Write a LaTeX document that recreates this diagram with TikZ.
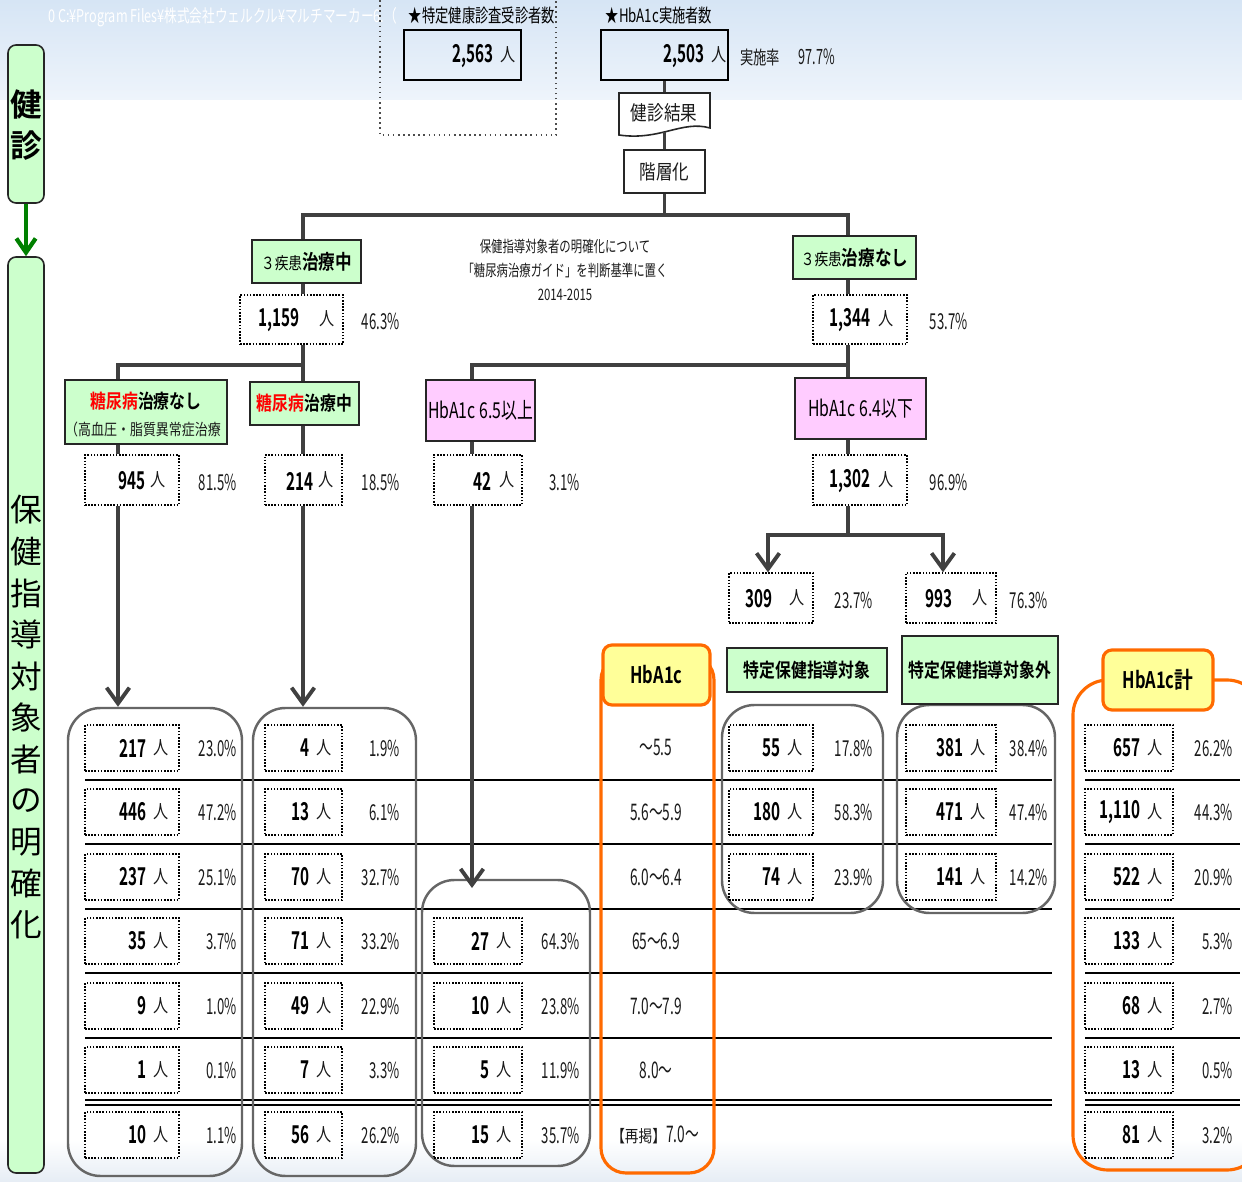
\documentclass[tikz,border=0pt]{standalone}
\usepackage{fontspec}
\usetikzlibrary{arrows.meta}
\newfontfamily\jp[FakeStretch=0.82,BoldFont={Noto Sans CJK JP Bold}]{Noto Sans CJK JP}
\newfontfamily\nm[FakeStretch=0.72,BoldFont={Noto Sans CJK JP Bold}]{Noto Sans CJK JP}
\newfontfamily\np[FakeStretch=0.6,BoldFont={Noto Sans CJK JP Bold}]{Noto Sans CJK JP}
\newfontfamily\nb[FakeStretch=0.62,BoldFont={Noto Sans CJK JP Bold}]{Noto Sans CJK JP}
\newfontfamily\jv[BoldFont={Noto Sans CJK JP Bold}]{Noto Sans CJK JP}
\definecolor{lg}{HTML}{CCFFCC}
\definecolor{pk}{HTML}{FFCCFF}
\definecolor{yl}{HTML}{FFFF99}
\definecolor{og}{HTML}{FF6A00}
\definecolor{dg}{HTML}{404040}
\definecolor{gb}{HTML}{666666}
\definecolor{bgt}{HTML}{D6E5F5}
\definecolor{bgm}{HTML}{EEF4FB}
\definecolor{bgb}{HTML}{E6EDF5}
\definecolor{gr}{HTML}{008000}
\definecolor{tx}{HTML}{1A1A1A}
\tikzset{
 conn/.style={draw=dg,line width=2.2pt},
 arr/.style={conn,-{Straight Barb[length=9pt,width=13pt]}},
 lab/.style={draw=black!85,fill=lg,line width=0.9pt,inner sep=0pt},
 pbox/.style={draw=black!85,fill=pk,line width=0.9pt,inner sep=0pt},
 topbox/.style={draw=black,line width=1.6pt,inner sep=0pt},
 cbox/.style={draw=black,line width=0.8pt,dash pattern=on 0.9pt off 0.9pt,fill=white,inner sep=0pt},
 gbox/.style={draw=gb,line width=1.4pt,rounded corners=0.65cm,inner sep=0pt},
 obox/.style={draw=og,line width=1.8pt,rounded corners=0.5cm,inner sep=0pt},
 ybox/.style={draw=og,fill=yl,line width=1.8pt,rounded corners=0.18cm,inner sep=0pt},
 numt/.style={font=\nb\bfseries\fontsize{14}{15}\selectfont,inner sep=0pt,text=black},
 hito/.style={font=\jp\fontsize{10.5}{12}\selectfont,inner sep=0pt,text=tx},
 pct/.style={font=\np\fontsize{12.5}{13}\selectfont,inner sep=0pt,text=tx},
 rng/.style={font=\np\fontsize{13}{14}\selectfont,inner sep=0pt,text=tx},
 vt/.style={font=\jv\fontsize{18}{20}\selectfont,inner sep=0pt},
 hdr/.style={font=\jp\bfseries\fontsize{11}{13}\selectfont,inner sep=0pt},
 sepl/.style={draw=black,line width=1.5pt},
}
\newcommand\cell[7]{%
 \node[cbox,minimum width={(#3-#2)*0.02cm},minimum height=46*0.02cm] (#1) at ({(#2+#3)/2},#4) {};
 \node[numt,anchor=east] at ({#3-32},#4) {#5};
 \node[hito] at ({#3-18},#4) {人};
 \node[pct,anchor=east] at (#7,#4) {#6\%};
}
\begin{document}
\begin{tikzpicture}[x=0.02cm,y=-0.02cm]
\useasboundingbox (0,0) rectangle (1242,1182);
% background
\fill[white] (0,0) rectangle (1242,1182);
\shade[top color=bgt,bottom color=bgm] (0,0) rectangle (1242,100);
\shade[top color=white,bottom color=bgb] (0,1140) rectangle (1242,1182);
% file path
\node[anchor=west,text=white,font=\nm\fontsize{10}{11}\selectfont,inner sep=0pt] (fpath) at (48,17) {0 C:¥Program Files¥株式会社ウェルクル¥マルチマーカー6.（};
% left labels
\node[lab,rounded corners=0.16cm,minimum width=36*0.02cm,minimum height=158*0.02cm] (lk1) at (26,124) {};
\node[vt,font=\jv\bfseries\fontsize{18}{20}\selectfont] at (26,105) {健};
\node[vt,font=\jv\bfseries\fontsize{18}{20}\selectfont] at (26,146) {診};
\node[lab,rounded corners=0.16cm,minimum width=36*0.02cm,minimum height=916*0.02cm] (lk2) at (26,715) {};
\foreach \c [count=\i from 0] in {保,健,指,導,対,象,者,の,明,確,化}
  \node[vt] at (26,{510+41.5*\i}) {\c};
\draw[draw=gr,line width=2.4pt,-{Straight Barb[length=8pt,width=11pt]}] (lk1.south) -- (lk2.north);
% top
\draw[dotted,line width=0.9pt,draw=black!70] (380,-5) -- (380,135) -- (556,135) -- (556,-5);
\node[font=\nm\fontsize{10.5}{12}\selectfont,inner sep=0pt] (t1) at (482,16) {★特定健康診査受診者数};
\node[topbox,minimum width=117*0.02cm,minimum height=50*0.02cm] (b2563) at (462.5,55) {};
\node[numt,anchor=east] at (494,56) {2,563};
\node[hito] at (508,55) {人};
\node[font=\nm\fontsize{10.5}{12}\selectfont,inner sep=0pt] (t2) at (659,16) {★HbA1c実施者数};
\node[topbox,minimum width=127*0.02cm,minimum height=50*0.02cm] (b2503) at (664.5,55) {};
\node[numt,anchor=east] at (705,56) {2,503};
\node[hito] at (719,55) {人};
\node[anchor=west,font=\nm\fontsize{10.5}{12}\selectfont,inner sep=0pt,text=tx] (rate) at (740,57) {実施率\quad{\np\fontsize{12}{12}\selectfont 97.7\%}};
% kekka & kaiso
\node[minimum width=91*0.02cm,minimum height=40*0.02cm,inner sep=0pt] (kekka) at (664.5,112) {};
\draw[conn] (b2503) -- (kekka);
\draw[draw=black!85,line width=0.9pt,fill=white] (619,93) -- (710,93) -- (710,128) .. controls (682,120) and (660,141) .. (619,135) -- cycle;
\node[font=\jp\fontsize{11.5}{13}\selectfont,inner sep=0pt,text=tx] at (664,113) {健診結果};
\node[draw=black!85,line width=0.9pt,fill=white,minimum width=81*0.02cm,minimum height=43*0.02cm,inner sep=0pt,font=\jp\fontsize{11.5}{13}\selectfont,text=tx] (kaiso) at (664.5,171.5) {階層化};
\draw[conn] (kekka) -- (kaiso);
% first branch
\coordinate (j1) at (664.5,215);
\coordinate (jL) at (303,215);
\coordinate (jR) at (848,215);
\node[lab,minimum width=109*0.02cm,minimum height=43*0.02cm] (s3a) at (306.5,261.5) {\jp\fontsize{9.5}{11}\selectfont ３疾患\bfseries\fontsize{11.5}{13}\selectfont 治療中};
\node[lab,minimum width=123*0.02cm,minimum height=43*0.02cm] (s3b) at (854.5,257.5) {\jp\fontsize{9.5}{11}\selectfont ３疾患\bfseries\fontsize{11.5}{13}\selectfont 治療なし};
\draw[conn] (kaiso) -- (j1);
\draw[conn] (s3a.north -| jL) -- (jL) -- (jR) -- (s3b.north -| jR);
\node[align=center,font=\nm\fontsize{9}{13.6}\selectfont,inner sep=0pt,text=tx] (note) at (565,270) {保健指導対象者の明確化について\\「糖尿病治療ガイド」を判断基準に置く\\2014-2015};
% 1159 / 1344
\node[cbox,minimum width=103*0.02cm,minimum height=49*0.02cm] (n1159) at (291.5,319.5) {};
\node[numt,anchor=east] at (300,320) {1,159};
\node[hito] at (327,319) {人};
\node[pct,anchor=east] at (400,321) {46.3\%};
\node[cbox,minimum width=94*0.02cm,minimum height=49*0.02cm] (n1344) at (860,319.5) {};
\node[numt,anchor=east] at (871,320) {1,344};
\node[hito] at (886,319) {人};
\node[pct,anchor=east] at (968,321) {53.7\%};
\draw[conn] (s3a.south -| jL) -- (n1159.north -| jL);
\draw[conn] (s3b.south -| jR) -- (n1344.north -| jR);
% second level
\coordinate (jL2) at (303,365);
\coordinate (jLL) at (118,365);
\coordinate (jR2) at (848,365);
\coordinate (jRL) at (472,365);
\node[lab,minimum width=162*0.02cm,minimum height=64*0.02cm] (dmn) at (146,412) {};
\node[hdr] at (146,401) {\textcolor{red}{糖尿病}治療なし};
\node[font=\jp\fontsize{9}{11}\selectfont,inner sep=0pt,text=tx] at (143,429) {（高血圧・脂質異常症治療};
\node[lab,minimum width=109*0.02cm,minimum height=43*0.02cm,hdr] (dmc) at (304.5,403.5) {\textcolor{red}{糖尿病}治療中};
\node[pbox,minimum width=109*0.02cm,minimum height=61*0.02cm,font=\nm\fontsize{12.5}{14}\selectfont] (h65) at (480.5,410.5) {HbA1c 6.5以上};
\node[pbox,minimum width=131*0.02cm,minimum height=61*0.02cm,font=\nm\fontsize{12.5}{14}\selectfont] (h64) at (860.5,408.5) {HbA1c 6.4以下};
\draw[conn] (n1159.south -| jL) -- (jL2) -- (jLL) -- (jLL |- dmn.north);
\draw[conn] (jL2) -- (jL2 |- dmc.north);
\draw[conn] (n1344.south -| jR) -- (jR2) -- (jRL) -- (jRL |- h65.north);
\draw[conn] (jR2) -- (jR2 |- h64.north);
% counts level 2
\node[cbox,minimum width=94*0.02cm,minimum height=50*0.02cm] (n945) at (132,480) {};
\node[numt,anchor=east] at (146,481) {945};
\node[hito] at (158,480) {人};
\node[pct,anchor=east] at (237,482) {81.5\%};
\node[cbox,minimum width=77*0.02cm,minimum height=50*0.02cm] (n214) at (303.5,480) {};
\node[numt,anchor=east] at (314,481) {214};
\node[hito] at (326,480) {人};
\node[pct,anchor=east] at (400,482) {18.5\%};
\node[cbox,minimum width=88*0.02cm,minimum height=50*0.02cm] (n42) at (478,480) {};
\node[numt,anchor=east] at (492,481) {42};
\node[hito] at (507,480) {人};
\node[pct,anchor=east] at (580,482) {3.1\%};
\node[cbox,minimum width=94*0.02cm,minimum height=50*0.02cm] (n1302) at (860,480) {};
\node[numt,anchor=east] at (871,481) {1,302};
\node[hito] at (886,480) {人};
\node[pct,anchor=east] at (968,482) {96.9\%};
\draw[conn] (dmn.south -| jLL) -- (n945.north -| jLL);
\draw[conn] (dmc.south -| jL2) -- (n214.north -| jL2);
\draw[conn] (h65.south -| jRL) -- (n42.north -| jRL);
\draw[conn] (h64.south -| jR2) -- (n1302.north -| jR2);
% 309 / 993
\coordinate (jR3) at (848,535);
\coordinate (jRa) at (768,535);
\coordinate (jRb) at (943,535);
\node[cbox,minimum width=84*0.02cm,minimum height=50*0.02cm] (n309) at (771,598) {};
\node[numt,anchor=east] at (773,599) {309};
\node[hito] at (797,598) {人};
\node[pct,anchor=east] at (873,600) {23.7\%};
\node[cbox,minimum width=90*0.02cm,minimum height=50*0.02cm] (n993) at (951,598) {};
\node[numt,anchor=east] at (953,599) {993};
\node[hito] at (980,598) {人};
\node[pct,anchor=east] at (1048,600) {76.3\%};
\draw[conn] (n1302.south -| jR2) -- (jR3);
\draw[arr] (jR3) -- (jRa) -- (jRa |- n309.north);
\draw[arr] (jR3) -- (jRb) -- (jRb |- n993.north);
% separators
\foreach \yy in {780,844,909,973,1038} {
  \draw[sepl] (85,\yy) -- (1052,\yy);
  \draw[sepl] (1085,\yy) -- (1240,\yy);
}
\foreach \yy in {1100,1105} {
  \draw[draw=black,line width=1pt] (85,\yy) -- (1052,\yy);
  \draw[draw=black,line width=1pt] (1085,\yy) -- (1240,\yy);
}
% group boxes
\node[gbox,minimum width=174*0.02cm,minimum height=468*0.02cm] (g1) at (155,942) {};
\node[gbox,minimum width=163*0.02cm,minimum height=468*0.02cm] (g2) at (334.5,942) {};
\node[gbox,minimum width=168*0.02cm,minimum height=286*0.02cm] (g3) at (506,1023) {};
\node[gbox,minimum width=161*0.02cm,minimum height=208*0.02cm] (g4) at (802.5,809) {};
\node[gbox,minimum width=158*0.02cm,minimum height=208*0.02cm] (g5) at (976,809) {};
\node[obox,minimum width=113*0.02cm,minimum height=518*0.02cm] (o1) at (657.5,914) {};
\node[obox,rounded corners=0.7cm,minimum width=189*0.02cm,minimum height=490*0.02cm] (o2) at (1167.5,925) {};
\coordinate (a3) at (472,888);
\draw[arr] (n945.south -| jLL) -- (jLL |- g1.north);
\draw[arr] (n214.south -| jL2) -- (jL2 |- g2.north);
\draw[arr] (n42.south -| jRL) -- (a3);
% headers
\node[ybox,minimum width=107*0.02cm,minimum height=60*0.02cm,font=\nm\bfseries\fontsize{13}{14}\selectfont] (y1) at (656.5,675) {HbA1c};
\node[lab,hdr,minimum width=160*0.02cm,minimum height=44*0.02cm] (tk1) at (807,670) {特定保健指導対象};
\node[lab,hdr,minimum width=156*0.02cm,minimum height=68*0.02cm] (tk2) at (980,670) {特定保健指導対象外};
\node[ybox,minimum width=110*0.02cm,minimum height=60*0.02cm,font=\nm\bfseries\fontsize{13}{14}\selectfont] (y2) at (1158,680) {HbA1c{\jp 計}};
% rows
\foreach \y/\n/\p [count=\i] in {748/217/23.0,812/446/47.2,877/237/25.1,941/35/3.7,1006/9/1.0,1070/1/0.1,1135/10/1.1}
  {\cell{a\i}{85}{179}{\y}{\n}{\p}{237}}
\foreach \y/\n/\p [count=\i] in {748/4/1.9,812/13/6.1,877/70/32.7,941/71/33.2,1006/49/22.9,1070/7/3.3,1135/56/26.2}
  {\cell{b\i}{265}{342}{\y}{\n}{\p}{400}}
\foreach \y/\n/\p [count=\i] in {941/27/64.3,1006/10/23.8,1070/5/11.9,1135/15/35.7}
  {\cell{c\i}{434}{522}{\y}{\n}{\p}{580}}
\foreach \y/\n/\p [count=\i] in {748/55/17.8,812/180/58.3,877/74/23.9}
  {\cell{d\i}{729}{813}{\y}{\n}{\p}{873}}
\foreach \y/\n/\p [count=\i] in {748/381/38.4,812/471/47.4,877/141/14.2}
  {\cell{e\i}{906}{996}{\y}{\n}{\p}{1048}}
\foreach \y/\n/\p [count=\i] in {748/657/26.2,812/{1,110}/44.3,877/522/20.9,941/133/5.3,1006/68/2.7,1070/13/0.5,1135/81/3.2}
  {\cell{f\i}{1085}{1173}{\y}{\n}{\p}{1233}}
% ranges
\foreach \y/\r in {748/～5.5,812/5.6～5.9,877/6.0～6.4,941/65～6.9,1006/7.0～7.9,1070/8.0～}
  \node[rng] at (656,\y) {\r};
\node[rng] at (655,1135) {{\jp\fontsize{9.5}{11}\selectfont 【再掲】}7.0～};
\end{tikzpicture}
\end{document}
